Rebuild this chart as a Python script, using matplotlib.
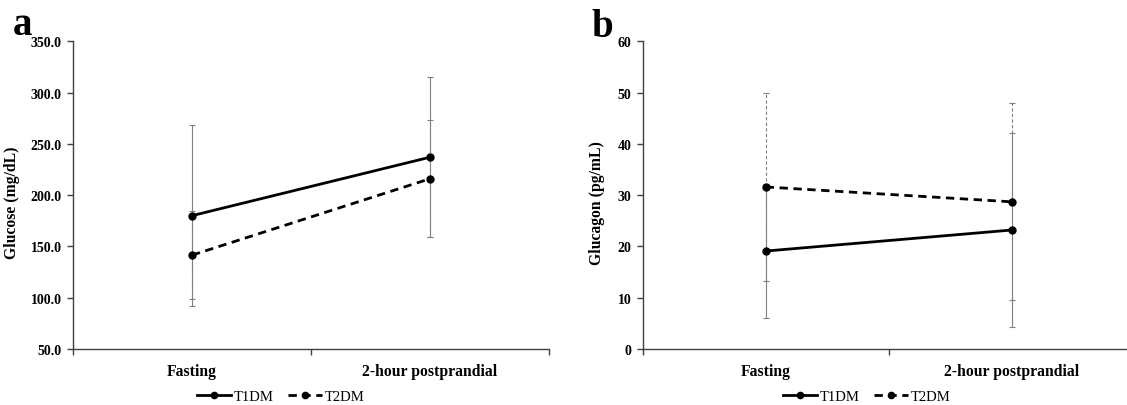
import matplotlib
matplotlib.use("Agg")
import matplotlib.pyplot as plt
from matplotlib.lines import Line2D
import numpy as np

plt.rcParams['font.family'] = ['Liberation Serif', 'DejaVu Serif']

categories = ["Fasting", "2-hour postprandial"]
series_names = ["T1DM", "T2DM"]

glucose_t1 = [180.0, 237.0]
glucose_t1_err = [88.0, 78.0]
glucose_t2 = [141.5, 216.0]
glucose_t2_err = [43.0, 57.0]

glucagon_t1 = [19.1, 23.2]
glucagon_t1_err = [13.0, 19.0]
glucagon_t2 = [31.6, 28.7]
glucagon_t2_err = [18.4, 19.2]

glucose_ticks = [50, 100, 150, 200, 250, 300, 350]
glucagon_ticks = [0, 10, 20, 30, 40, 50, 60]

W, H = 1127, 406
fig = plt.figure(figsize=(W / 100, H / 100), dpi=100)

spine_col = "#404040"
err_col = "#808080"


def draw_panel(ax, t1, t1e, t2, t2e, ticks, fmt, ylabel):
    x = np.arange(len(categories))
    e2 = ax.errorbar(x, t2, yerr=t2e, fmt='none', ecolor=err_col, elinewidth=0.8,
                     capsize=2.2, capthick=0.8, zorder=2)
    for lc in e2[2]:
        lc.set_linestyle((0, (3, 2)))
    ax.errorbar(x, t1, yerr=t1e, fmt='none', ecolor=err_col, elinewidth=0.8,
                capsize=2.2, capthick=0.8, zorder=2)
    ax.plot(x, t1, color='black', lw=2.0, marker='o', ms=5, zorder=3)
    ax.plot(x, t2, color='black', lw=2.0, ls=(0, (3, 2)), marker='o', ms=5, zorder=3)

    ax.set_xlim(-0.5, len(categories) - 0.5)
    ax.set_ylim(ticks[0], ticks[-1])
    ax.set_yticks(ticks)
    ax.set_yticklabels([fmt.format(t) for t in ticks], fontweight='bold', fontsize=10)
    ax.set_xticks(np.arange(-0.5, len(categories), 1.0))
    ax.set_xticklabels([])
    ax.set_xticks(x, minor=True)
    ax.set_xticklabels(categories, minor=True, fontweight='bold', fontsize=11.3)
    ax.tick_params(axis='x', which='minor', length=0, pad=10)
    ax.tick_params(axis='x', which='major', length=4, width=1, color=spine_col, direction='out')
    ax.tick_params(axis='y', length=4, width=1, color=spine_col, direction='out', pad=4)
    for s in ['top', 'right']:
        ax.spines[s].set_visible(False)
    for s in ['left', 'bottom']:
        ax.spines[s].set_color(spine_col)
        ax.spines[s].set_linewidth(1.0)
    ax.set_ylabel(ylabel, fontweight='bold', fontsize=11.3)


bottom = (H - 350) / H
height = (350 - 42.3) / H

ax1 = fig.add_axes([73 / W, bottom, 476 / W, height])
draw_panel(ax1, glucose_t1, glucose_t1_err, glucose_t2, glucose_t2_err,
           glucose_ticks, "{:.1f}", "Glucose (mg/dL)")
ax1.yaxis.set_label_coords(20 / W, 0.5, transform=fig.transFigure)

ax2 = fig.add_axes([642.7 / W, bottom, 492 / W, height])
draw_panel(ax2, glucagon_t1, glucagon_t1_err, glucagon_t2, glucagon_t2_err,
           glucagon_ticks, "{:d}", "Glucagon (pg/mL)")
ax2.yaxis.set_label_coords(605 / W, 0.5, transform=fig.transFigure)

fig.text(22 / W, (H - 35) / H, "a", fontsize=28, fontweight='bold', ha='center', va='baseline')
fig.text(602 / W, (H - 37) / H, "b", fontsize=28, fontweight='bold', ha='center', va='baseline')

handles = [
    Line2D([], [], color='black', lw=2.0, marker='o', ms=4.5),
    Line2D([], [], color='black', lw=2.0, ls=(0, (3, 2)), marker='o', ms=4.5),
]
for cx in (281 / W, 867 / W):
    fig.legend(handles, series_names, loc='center', bbox_to_anchor=(cx, (H - 397) / H),
               ncol=2, frameon=False, fontsize=10.5, handlelength=2.3, handletextpad=0.2,
               columnspacing=1.0, numpoints=1)

fig.savefig("out.png", dpi=100)
